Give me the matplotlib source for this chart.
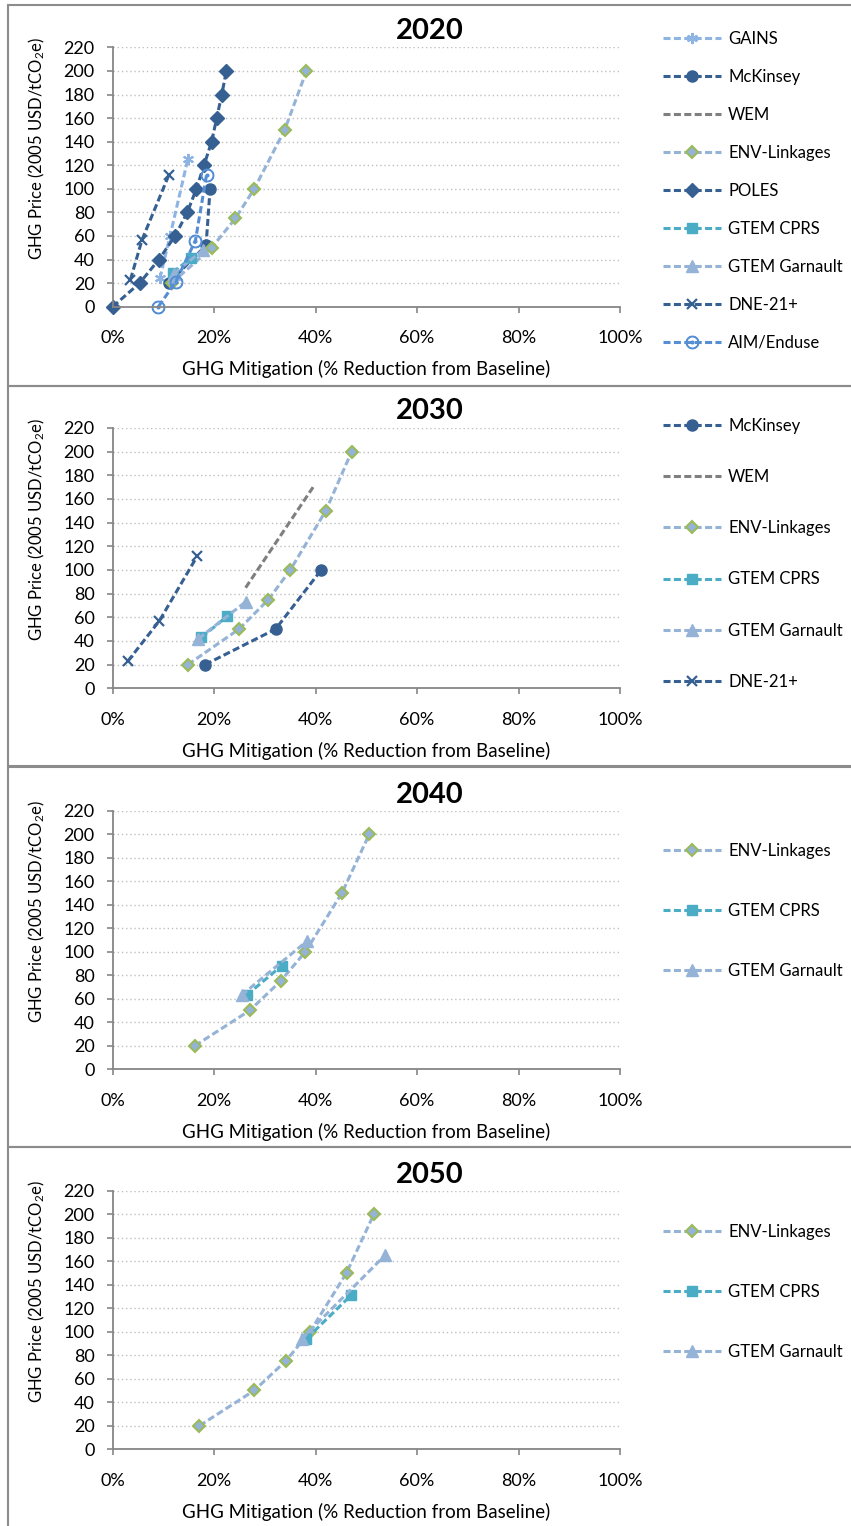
import matplotlib
matplotlib.use("Agg")
import matplotlib.pyplot as plt
from matplotlib.patches import Rectangle

plt.rcParams['font.family'] = ['Lato', 'DejaVu Sans']
plt.rcParams['mathtext.fontset'] = 'custom'
plt.rcParams['mathtext.rm'] = 'Lato'
plt.rcParams['mathtext.it'] = 'Lato:italic'
plt.rcParams['mathtext.bf'] = 'Lato:bold'

# ---- data: x = % reduction from baseline, y = price (2005 USD/tCO2e) ----
# 2020
gains_2020_x = [9.3, 11.3, 14.8]
gains_2020_y = [24, 60, 125]
mck_2020_x = [11.0, 18.4, 19.2]
mck_2020_y = [20, 52, 100]
wem_2020_x = []
wem_2020_y = []
env_2020_x = [11.6, 19.5, 24.2, 27.9, 33.9, 38.2]
env_2020_y = [20, 50, 75, 100, 150, 200]
poles_2020_x = [0, 5.3, 9.1, 12.3, 14.7, 16.5, 18.0, 19.5, 20.5, 21.5, 22.4]
poles_2020_y = [0, 20, 40, 60, 80, 100, 120, 140, 160, 180, 200]
cprs_2020_x = [11.8, 15.4]
cprs_2020_y = [29, 41]
garn_2020_x = [12.0, 17.8]
garn_2020_y = [28, 48]
dne_2020_x = [3.5, 5.8, 11.1]
dne_2020_y = [23, 57, 112]
aim_2020_x = [9.0, 12.4, 16.3, 18.5]
aim_2020_y = [0, 21, 56, 112]

# 2030
mck_2030_x = [18.2, 32.1, 41.1]
mck_2030_y = [20, 50, 100]
wem_2030_x = [26.2, 39.5]
wem_2030_y = [85, 170]
env_2030_x = [14.8, 24.9, 30.7, 35.0, 42.0, 47.1]
env_2030_y = [20, 50, 75, 100, 150, 200]
cprs_2030_x = [17.5, 22.6]
cprs_2030_y = [43, 61]
garn_2030_x = [16.9, 26.2]
garn_2030_y = [42, 73]
dne_2030_x = [3.0, 9.2, 16.7]
dne_2030_y = [23, 57, 112]

# 2040
env_2040_x = [16.2, 27.0, 33.1, 38.0, 45.2, 50.6]
env_2040_y = [20, 50, 75, 100, 150, 200]
cprs_2040_x = [26.4, 33.3]
cprs_2040_y = [63, 88]
garn_2040_x = [25.4, 38.3]
garn_2040_y = [63, 109]

# 2050
env_2050_x = [17.1, 27.9, 34.1, 38.9, 46.1, 51.5]
env_2050_y = [20, 50, 75, 100, 150, 200]
cprs_2050_x = [38.2, 47.0]
cprs_2050_y = [94, 131]
garn_2050_x = [37.3, 53.7]
garn_2050_y = [94, 165]

x_ticks = [0, 20, 40, 60, 80, 100]
y_ticks = list(range(0, 221, 20))

# model styles
dark = '#376092'
styles = {
    "GAINS": dict(color='#8EB4E3', marker=(6, 2, 0), ms=8, mew=1.5),
    "McKinsey": dict(color=dark, marker='o', ms=8),
    "WEM": dict(color='#7F7F7F', marker=None),
    "ENV-Linkages": dict(color='#95B3D7', marker='D', ms=6, mfc='#95B3D7',
                         mec='#9BBB59', mew=1.5),
    "POLES": dict(color=dark, marker='D', ms=7),
    "GTEM CPRS": dict(color='#4BACC6', marker='s', ms=7),
    "GTEM Garnault": dict(color='#95B3D7', marker='^', ms=8),
    "DNE-21+": dict(color=dark, marker='x', ms=7, mew=1.6),
    "AIM/Enduse": dict(color='#558ED5', marker=r'$\odot$', ms=9),
}

panels = [
    ("2020", [("GAINS", gains_2020_x, gains_2020_y),
              ("McKinsey", mck_2020_x, mck_2020_y),
              ("WEM", wem_2020_x, wem_2020_y),
              ("ENV-Linkages", env_2020_x, env_2020_y),
              ("POLES", poles_2020_x, poles_2020_y),
              ("GTEM CPRS", cprs_2020_x, cprs_2020_y),
              ("GTEM Garnault", garn_2020_x, garn_2020_y),
              ("DNE-21+", dne_2020_x, dne_2020_y),
              ("AIM/Enduse", aim_2020_x, aim_2020_y)]),
    ("2030", [("McKinsey", mck_2030_x, mck_2030_y),
              ("WEM", wem_2030_x, wem_2030_y),
              ("ENV-Linkages", env_2030_x, env_2030_y),
              ("GTEM CPRS", cprs_2030_x, cprs_2030_y),
              ("GTEM Garnault", garn_2030_x, garn_2030_y),
              ("DNE-21+", dne_2030_x, dne_2030_y)]),
    ("2040", [("ENV-Linkages", env_2040_x, env_2040_y),
              ("GTEM CPRS", cprs_2040_x, cprs_2040_y),
              ("GTEM Garnault", garn_2040_x, garn_2040_y)]),
    ("2050", [("ENV-Linkages", env_2050_x, env_2050_y),
              ("GTEM CPRS", cprs_2050_x, cprs_2050_y),
              ("GTEM Garnault", garn_2050_x, garn_2050_y)]),
]

W, H = 851, 1526
fig = plt.figure(figsize=(W / 100, H / 100), dpi=100)

# pixel layout per panel: (axes top, axes bottom, panel top, title y, legend top, legend spacing)
layout = [
    (47.4, 306.7, 5, 31, 31, 1.32),
    (428.0, 688.3, 386, 411, 418, 2.11),
    (810.5, 1069.3, 766, 795, 843, 2.64),
    (1190.5, 1449.3, 1147, 1175, 1224, 2.64),
]
ax_left, ax_right = 112.7, 620.0

for (year, series), (top, bot, ptop, ty, ltop, lsp) in zip(panels, layout):
    # panel border
    fig.patches.append(Rectangle((8 / W, 1 - (ptop + 381) / H), 1.0, 381 / H,
                                 transform=fig.transFigure, fill=False,
                                 edgecolor='#8C8C8C', lw=1.5))
    ax = fig.add_axes([ax_left / W, 1 - bot / H, (ax_right - ax_left) / W, (bot - top) / H])
    for name, xs, ys in series:
        st = dict(styles[name])
        ax.plot(xs, ys, linestyle=(0, (2.3, 1.1)), lw=2.2, label=name,
                clip_on=False, **st)

    ax.set_xlim(0, 100)
    ax.set_ylim(0, 220)
    ax.set_xticks(x_ticks)
    ax.set_xticklabels([f"{v}%" for v in x_ticks])
    ax.set_yticks(y_ticks)
    ax.yaxis.grid(True, linestyle=(0, (1, 2)), color='#BFBFBF', lw=1)
    ax.set_axisbelow(True)
    for s in ['top', 'right']:
        ax.spines[s].set_visible(False)
    for s in ['left', 'bottom']:
        ax.spines[s].set_color('#868686')
        ax.spines[s].set_linewidth(1.3)
    ax.tick_params(axis='both', colors='#868686', labelcolor='black', length=4,
                   width=1.2, labelsize=13)
    ax.tick_params(axis='x', pad=13)
    ax.tick_params(axis='y', pad=9)
    ax.set_xlabel("GHG Mitigation (% Reduction from Baseline)", fontsize=13.5, labelpad=10)
    ax.set_ylabel(r"GHG Price (2005 USD/tCO$_2$e)", fontsize=12)
    ax.yaxis.set_label_coords(-0.13, 0.61)

    fig.text(430 / W, 1 - ty / H, year, ha='center', va='center',
             fontsize=21, fontweight='bold')

    ax.legend(loc='upper left', bbox_to_anchor=(663 / W, 1 - ltop / H),
              bbox_transform=fig.transFigure, frameon=False, borderpad=0,
              borderaxespad=0, fontsize=12, handlelength=3.5, handletextpad=0.4,
              labelspacing=lsp)

fig.savefig("out.png", dpi=100)
